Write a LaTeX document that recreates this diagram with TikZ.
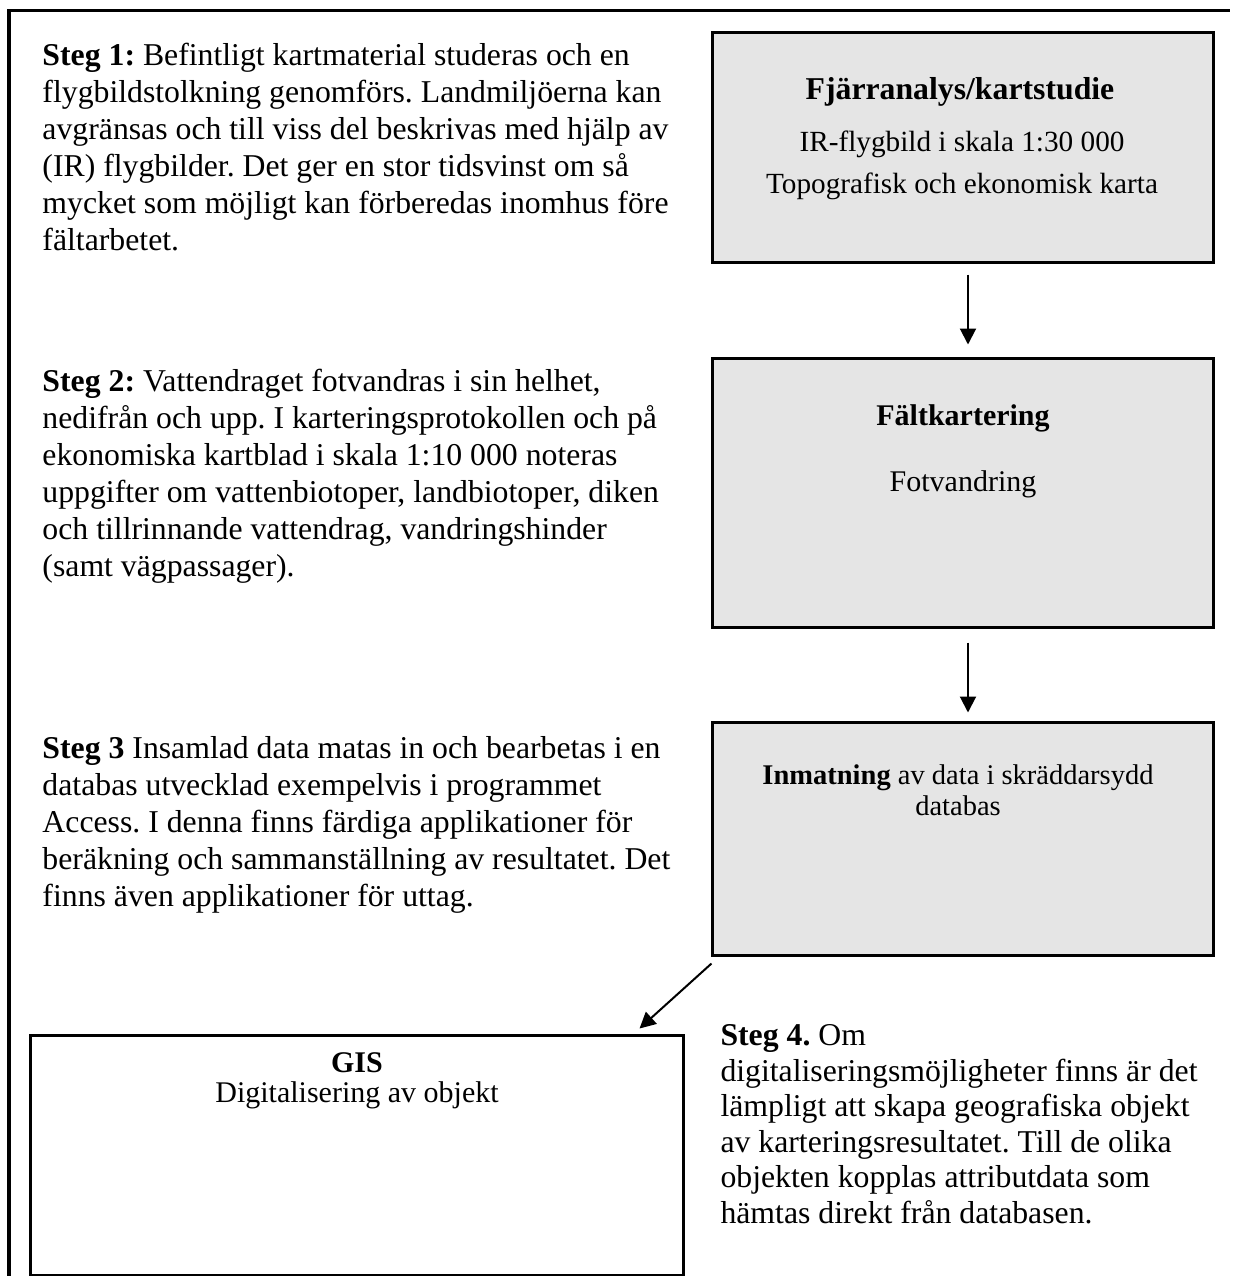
\documentclass[tikz,border=0pt]{standalone}
\usepackage{fontspec}
\setmainfont{Liberation Serif}
\frenchspacing
\usetikzlibrary{arrows.meta,positioning}
\tikzset{
    stegtext/.style={anchor=north west,inner sep=0pt,align=left,
        font=\fontsize{12.7}{14.8}\selectfont},
    flowbox/.style={draw,line width=1.2pt,fill=gray!20,inner sep=0pt},
    boxtext/.style={anchor=north,inner sep=0pt,align=center,
        font=\fontsize{12}{14}\selectfont},
    arr/.style={->,>={Triangle[width=6.4pt,length=6.4pt]},line width=0.8pt},
}
\begin{document}
\begin{tikzpicture}[x=0.4pt,y=-0.4pt]
    \useasboundingbox (0,0) rectangle (1234,1276);
    % ram
    \draw[line width=1.2pt] (9,1276) -- (9,10) -- (1230,10);
    % lådor
    \node[flowbox,minimum width=200pt,minimum height=92pt] at (963,147) (fjarr) {};
    \node[flowbox,minimum width=200pt,minimum height=107.6pt] at (963,492.5) (falt) {};
    \node[flowbox,minimum width=200pt,minimum height=93.2pt] at (963,838.5) (inmat) {};
    \node[draw,line width=1.2pt,fill=white,inner sep=0pt,minimum width=260.8pt,
        minimum height=96pt] at (357,1155) (gis) {};
    % text i lådorna
    \node[boxtext,font=\fontsize{12.7}{15}\selectfont\bfseries] at (960,77) (fjarrtitel)
        {Fjärranalys/kartstudie};
    \node[boxtext,font=\fontsize{11.7}{16.8}\selectfont] at (962,130) (fjarrtxt)
        {IR-flygbild i skala 1:30 000\\Topografisk och ekonomisk karta};
    \node[boxtext] at (963,404) (falttitel) {\textbf{Fältkartering}};
    \node[boxtext] at (963,470) (falttxt) {Fotvandring};
    \node[boxtext,font=\fontsize{11.4}{12.5}\selectfont] at (958,764) (inmattxt)
        {\textbf{Inmatning} av data i skräddarsydd\\databas};
    \node[boxtext,font=\fontsize{12}{12}\selectfont] at (357,1052) (gistxt)
        {\textbf{GIS}\\Digitalisering av objekt};
    % stegen
    \node[stegtext] at (42,43) (steg1) {\textbf{Steg 1:} Befintligt kartmaterial studeras och en\\
        flygbildstolkning genomförs. Landmiljöerna kan\\
        avgränsas och till viss del beskrivas med hjälp av\\
        (IR) flygbilder. Det ger en stor tidsvinst om så\\
        mycket som möjligt kan förberedas inomhus före\\
        fältarbetet.};
    \node[stegtext] at (42,369) (steg2) {\textbf{Steg 2:} Vattendraget fotvandras i sin helhet,\\
        nedifrån och upp. I karteringsprotokollen och på\\
        ekonomiska kartblad i skala 1:10 000 noteras\\
        uppgifter om vattenbiotoper, landbiotoper, diken\\
        och tillrinnande vattendrag, vandringshinder\\
        (samt vägpassager).};
    \node[stegtext] at (42,736) (steg3) {\textbf{Steg 3} Insamlad data matas in och bearbetas i en\\
        databas utvecklad exempelvis i programmet\\
        Access. I denna finns färdiga applikationer för\\
        beräkning och sammanställning av resultatet. Det\\
        finns även applikationer för uttag.};
    \node[stegtext,font=\fontsize{12.7}{14.2}\selectfont] at (720,1024) (steg4) {\textbf{Steg 4.} Om\\
        digitaliseringsmöjligheter finns är det\\
        lämpligt att skapa geografiska objekt\\
        av karteringsresultatet. Till de olika\\
        objekten kopplas attributdata som\\
        hämtas direkt från databasen.};
    % pilar
    \draw[arr,shorten <=4.4pt,shorten >=4.8pt] ([xshift=2pt]fjarr.south) -- ([xshift=2pt]falt.north);
    \draw[arr,shorten <=5.6pt,shorten >=3.2pt] ([xshift=2pt]falt.south) -- ([xshift=2pt]inmat.north);
    \draw[arr] ([yshift=-2.8pt]inmat.south west) -- ([xshift=-18pt,yshift=2pt]gis.north east);
\end{tikzpicture}
\end{document}
